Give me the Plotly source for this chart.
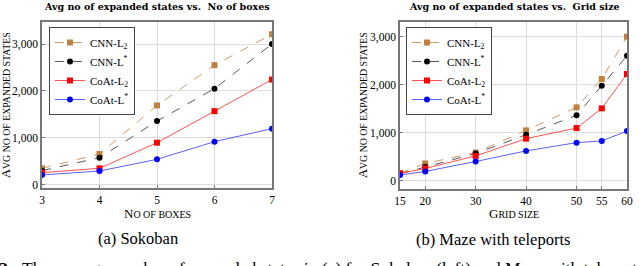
import plotly.graph_objects as go

# ---- data ----
boxes = [3, 4, 5, 6, 7]
sok_cnn_l2 = [355, 660, 1693, 2550, 3207]
sok_cnn_ls = [305, 580, 1360, 2050, 3000]
sok_coat_l2 = [262, 355, 900, 1571, 2243]
sok_coat_ls = [213, 298, 546, 922, 1199]

grid = [15, 20, 30, 40, 50, 55, 60]
maze_cnn_l2 = [160, 359, 586, 1048, 1528, 2118, 3000]
maze_cnn_ls = [145, 290, 566, 959, 1361, 1979, 2604]
maze_coat_l2 = [152, 255, 517, 876, 1097, 1507, 2222]
maze_coat_ls = [117, 193, 400, 621, 793, 828, 1034]

y_ticks = [0, 1000, 2000, 3000]
y_tick_text = ["0", "1,000", "2,000", "3,000"]

names = ["CNN-L<sub>2</sub>", "CNN-L<sup>*</sup>", "CoAt-L<sub>2</sub>", "CoAt-L<sup>*</sup>"]

SERIF = "Liberation Serif"
SERIF_WIDE = "DejaVu Serif"

styles = [
    dict(line=dict(color="rgba(191,128,64,0.8)", width=1, dash="dash"),
         marker=dict(color="#bf8040", symbol="square", size=6)),
    dict(line=dict(color="rgba(60,60,60,0.85)", width=1, dash="dash"),
         marker=dict(color="black", symbol="circle", size=6)),
    dict(line=dict(color="rgba(255,40,40,0.8)", width=1),
         marker=dict(color="#ff0000", symbol="square", size=6)),
    dict(line=dict(color="rgba(40,40,255,0.75)", width=1),
         marker=dict(color="#0000ff", symbol="circle", size=6)),
]

fig = go.Figure()
for name, ys, st in zip(names, [sok_cnn_l2, sok_cnn_ls, sok_coat_l2, sok_coat_ls], styles):
    fig.add_trace(go.Scatter(x=boxes, y=ys, mode="lines+markers", name=name,
                             xaxis="x", yaxis="y", legend="legend", **st))
for name, ys, st in zip(names, [maze_cnn_l2, maze_cnn_ls, maze_coat_l2, maze_coat_ls], styles):
    fig.add_trace(go.Scatter(x=grid, y=ys, mode="lines+markers", name=name,
                             xaxis="x2", yaxis="y2", legend="legend2", **st))

W, H = 640, 266
def px(x):
    return x / W
def py(y):
    return 1 - y / H

axis_common = dict(showgrid=True, gridcolor="#dddddd", gridwidth=1,
                   showline=True, linecolor="#777777", linewidth=1.5, mirror=True,
                   ticks="inside", ticklen=3, tickcolor="#777777",
                   zeroline=False, automargin=False,
                   tickfont=dict(family=SERIF, size=11.5, color="black"))

def smallcaps(first, rest, big=12, small=9):
    return ("<span style='font-size:%spx'>" % big) + first + "</span>" + \
           ("<span style='font-size:%spx'>" % small) + rest + "</span>"

legend_common = dict(xanchor="left", yanchor="top", bgcolor="white",
                     bordercolor="#444444", borderwidth=1,
                     font=dict(family=SERIF, size=11, color="black"),
                     itemwidth=30, tracegroupgap=0)

fig.update_layout(
    width=W, height=H, margin=dict(l=0, r=0, t=0, b=0, pad=0), autosize=False,
    plot_bgcolor="white", paper_bgcolor="white",
    font=dict(family=SERIF, color="black"),
    xaxis=dict(domain=[px(42), px(272)], range=[3, 7], tickvals=boxes,
               anchor="y", **axis_common),
    yaxis=dict(domain=[py(188), py(22)], range=[-64, 3468], tickvals=y_ticks,
               ticktext=y_tick_text, anchor="x", **axis_common),
    xaxis2=dict(domain=[px(400), px(627)], range=[15, 60], tickvals=grid,
                anchor="y2", **axis_common),
    yaxis2=dict(domain=[py(189), py(22)], range=[-173, 3306], tickvals=y_ticks,
                ticktext=y_tick_text, anchor="x2", **axis_common),
    legend=dict(x=px(49), y=py(27), **legend_common),
    legend2=dict(x=px(406), y=py(27), **legend_common),
    showlegend=True,
)

def note(text, x, y, size, family=SERIF, **kw):
    d = dict(text=text, x=px(x), y=py(y), xref="paper", yref="paper", showarrow=False,
             xanchor="center", yanchor="middle", font=dict(size=size, family=family, color="black"))
    d.update(kw)
    return d

ylab = smallcaps("A", "VG NO OF EXPANDED STATES", 12.5, 9.8)
ann = [
    note("<b>Avg no of expanded states vs.  No of boxes</b>", 157, 7, 9.5, SERIF_WIDE),
    note("<b>Avg no of expanded states vs.  Grid size</b>", 514, 7, 9.5, SERIF_WIDE),
    note(smallcaps("N", "O OF BOXES", 13, 10), 157, 213, 12),
    note(smallcaps("G", "RID SIZE", 13, 10), 514, 213, 12),
    note(ylab, 6, 105, 12, textangle=-90),
    note(ylab, 363, 105, 12, textangle=-90),
    note("(a) Sokoban", 138, 238, 16.5),
    note("(b) Maze with teleports", 493, 239, 16.5),
    note("<b>2:</b>  The average number of expanded states in (a) for Sokoban (left) and Maze with teleports (right)",
         -3, 256, 17.5, xanchor="left", yanchor="top"),
]
fig.update_layout(annotations=ann)

fig.write_html("out.html", config={"displayModeBar": False},
               post_script="document.body.style.margin='0';document.body.style.overflow='hidden';")
